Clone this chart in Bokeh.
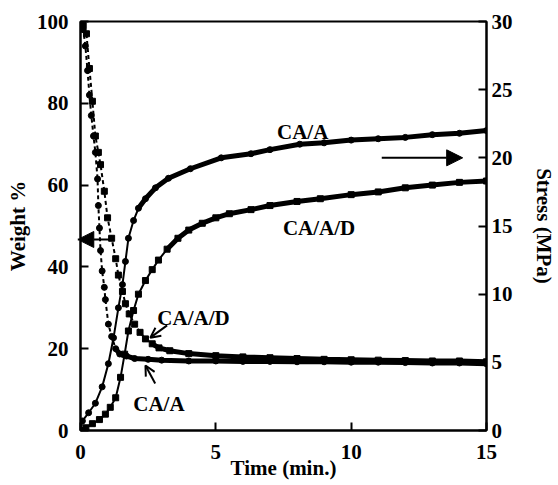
from bokeh.plotting import figure
from bokeh.models import Range1d, LinearAxis, FixedTicker, Arrow, NormalHead, OpenHead, Label
from bokeh.embed import file_html
from bokeh.resources import INLINE

# ---- data ----
# Weight % (left axis), dashed
w_caa_t = [0, 0.1, 0.18, 0.26, 0.33, 0.4, 0.48, 0.55, 0.63, 0.66, 0.7, 0.74, 0.8, 0.88, 0.92, 1.03, 1.15, 1.3,
           1.45, 1.7, 2.0, 2.5, 3, 4, 5, 6, 7, 8, 9, 10, 11, 12, 13, 14, 15]
w_caa_v = [100, 98, 94, 88, 82, 77, 72, 68, 61.5, 55, 49.5, 44, 39, 35, 32, 26, 23, 20,
           18.7, 18.2, 17.6, 17.4, 17.2, 17.0, 17.0, 16.9, 16.9, 16.8, 16.8, 16.7, 16.7, 16.6, 16.5, 16.5, 16.3]
w_caad_t = [0, 0.1, 0.22, 0.33, 0.44, 0.55, 0.66, 0.74, 0.88, 1.0, 1.15, 1.3, 1.4, 1.55, 1.66, 1.8, 2.0, 2.2,
            2.4, 2.65, 2.9, 3.3, 4, 5, 6, 7, 8, 9, 10, 11, 12, 13, 14, 15]
w_caad_v = [100, 99, 97, 88.5, 80.5, 72, 68, 65, 58.5, 52, 47, 42, 38, 34, 31, 28.5, 26, 24,
            22.4, 21.2, 20.2, 19.5, 18.8, 18.3, 18.0, 17.8, 17.6, 17.4, 17.3, 17.2, 17.1, 17.0, 17.0, 16.8]

# Stress (MPa) (right axis), solid
s_caa_t = [0, 0.07, 0.3, 0.55, 0.8, 1.03, 1.22, 1.4, 1.55, 1.66, 1.77, 1.96, 2.14, 2.4, 2.77, 3.25, 4.06,
           5.2, 6.3, 7.0, 8.1, 9, 10, 11, 12, 13, 14, 15]
s_caa_v = [0, 0.7, 1.3, 2.0, 3.2, 4.9, 6.8, 9.0, 10.7, 12.4, 14.1, 15.4, 16.3, 17.0, 17.8, 18.5, 19.2,
           20.0, 20.3, 20.6, 21.0, 21.1, 21.3, 21.4, 21.5, 21.7, 21.8, 22.0]
s_caad_t = [0, 0.2, 0.44, 0.7, 0.92, 1.1, 1.3, 1.48, 1.63, 1.77, 1.96, 2.14, 2.4, 2.65, 2.88, 3.2, 3.6,
            4, 4.5, 5, 5.5, 6.3, 7, 8, 8.86, 10, 11, 12, 13, 14, 15]
s_caad_v = [0, 0.2, 0.5, 0.8, 1.2, 1.7, 2.4, 3.9, 5.6, 7.3, 8.8, 10.0, 11.0, 11.8, 12.5, 13.3, 14.1,
            14.7, 15.2, 15.6, 15.9, 16.2, 16.5, 16.8, 17.0, 17.3, 17.5, 17.8, 18.0, 18.2, 18.3]

x_ticks = [0, 5, 10, 15]
w_ticks = [0, 20, 40, 60, 80, 100]
s_ticks = [0, 5, 10, 15, 20, 25, 30]

FONT = "Liberation Serif"

p = figure(width=558, height=485, x_range=Range1d(0, 15), y_range=Range1d(0, 100),
           output_backend="svg", toolbar_location=None,
           min_border_left=80, min_border_right=71, min_border_top=21, min_border_bottom=55)
p.extra_y_ranges = {"stress": Range1d(0, 30)}
p.grid.visible = False
p.outline_line_color = "black"
p.outline_line_width = 2
p.background_fill_color = "white"
p.border_fill_color = "white"

raxis = LinearAxis(y_range_name="stress", axis_label="Stress (MPa)")
p.add_layout(raxis, "right")

p.xaxis.axis_label = "Time (min.)"
p.yaxis[0].axis_label = "Weight %"
p.xaxis.ticker = FixedTicker(ticks=x_ticks)
p.yaxis[0].ticker = FixedTicker(ticks=w_ticks)
raxis.ticker = FixedTicker(ticks=s_ticks)

for ax in [p.xaxis[0], p.yaxis[0], raxis]:
    ax.axis_line_width = 2
    ax.axis_line_color = "black"
    ax.major_tick_in = 8
    ax.major_tick_out = 0
    ax.major_tick_line_width = 2
    ax.minor_tick_line_color = None
    ax.major_label_text_font = FONT
    ax.major_label_text_font_style = "bold"
    ax.major_label_text_font_size = "21px"
    ax.major_label_text_color = "black"
    ax.axis_label_text_font = FONT
    ax.axis_label_text_font_style = "bold"
    ax.axis_label_text_font_size = "21px"
    ax.axis_label_text_color = "black"

p.yaxis[0].major_label_standoff = 12
p.yaxis[0].axis_label_standoff = 4
raxis.major_label_standoff = 5
raxis.axis_label_standoff = 16
p.xaxis[0].major_label_standoff = 14
p.xaxis[0].axis_label_standoff = -6

# weight curves (dashed)
p.line(w_caa_t, w_caa_v, line_color="black", line_width=2, line_dash="4 3")
p.scatter(w_caa_t, w_caa_v, marker="circle", size=6, color="black")
p.line(w_caa_t[17:], w_caa_v[17:], line_color="black", line_width=5)
p.line(w_caad_t, w_caad_v, line_color="black", line_width=2, line_dash="4 3")
p.scatter(w_caad_t, w_caad_v, marker="square", size=6, color="black")
p.line(w_caad_t[19:], w_caad_v[19:], line_color="black", line_width=5)

# stress curves (solid)
p.line(s_caa_t, s_caa_v, line_color="black", line_width=2, y_range_name="stress")
p.scatter(s_caa_t, s_caa_v, marker="circle", size=6, color="black", y_range_name="stress")
p.line(s_caa_t[12:], s_caa_v[12:], line_color="black", line_width=5, y_range_name="stress")
p.line(s_caad_t, s_caad_v, line_color="black", line_width=2, y_range_name="stress")
p.scatter(s_caad_t, s_caad_v, marker="square", size=6, color="black", y_range_name="stress")
p.line(s_caad_t[15:], s_caad_v[15:], line_color="black", line_width=5, y_range_name="stress")

# annotations
def lab(x, y, t, rng="default"):
    p.add_layout(Label(x=x, y=y, text=t, text_font=FONT, text_font_style="bold",
                       text_font_size="21px", text_color="black", text_baseline="alphabetic",
                       y_range_name=rng))

lab(7.26, 73.1, "CA/A")
lab(7.48, 49.6, "CA/A/D")
lab(2.84, 27.6, "CA/A/D")
lab(1.95, 6.6, "CA/A")

p.add_layout(Arrow(x_start=11.13, y_start=20, x_end=14.12, y_end=20, y_range_name="stress",
                   line_width=2, line_color="black",
                   end=NormalHead(size=16, fill_color="black", line_color="black")))
p.add_layout(Arrow(x_start=1.18, y_start=46.7, x_end=-0.1, y_end=46.7,
                   line_width=2, line_color="black",
                   end=NormalHead(size=16, fill_color="black", line_color="black")))
p.add_layout(Arrow(x_start=3.2, y_start=25.7, x_end=2.58, y_end=22.7,
                   line_width=2, line_color="black",
                   end=OpenHead(size=10, line_width=2, line_color="black")))
p.add_layout(Arrow(x_start=2.76, y_start=11.5, x_end=2.4, y_end=15.9,
                   line_width=2, line_color="black",
                   end=OpenHead(size=10, line_width=2, line_color="black")))

open("out.html", "w").write(file_html(p, INLINE))
